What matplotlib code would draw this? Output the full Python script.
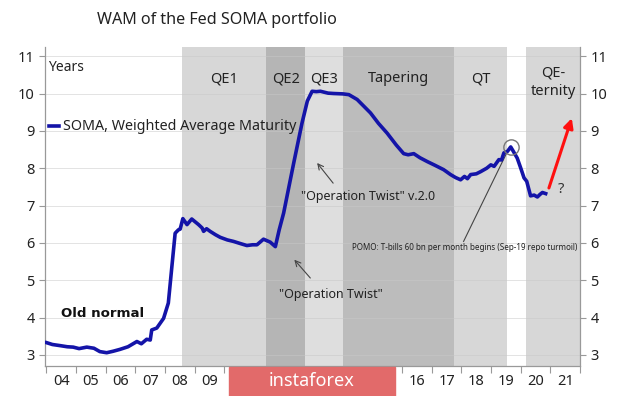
import matplotlib
matplotlib.use('Agg')
import matplotlib.pyplot as plt
from matplotlib.patches import Rectangle

plt.rcParams['font.family'] = ['Noto Sans', 'DejaVu Sans']

# WAM of SOMA portfolio, years
years = [2004.0, 2004.2, 2004.46, 2004.7, 2004.9, 2005.1, 2005.36, 2005.6, 2005.8,
         2006.03, 2006.25, 2006.48, 2006.75, 2007.05, 2007.2, 2007.38, 2007.5,
         2007.55, 2007.72, 2007.95, 2008.11, 2008.23, 2008.34, 2008.45, 2008.51,
         2008.6, 2008.74, 2008.9, 2009.13, 2009.25, 2009.3, 2009.4, 2009.52,
         2009.7, 2009.86, 2010.1, 2010.31, 2010.55, 2010.76, 2010.95, 2011.1,
         2011.32, 2011.55, 2011.72, 2011.85, 2012.0, 2012.34, 2012.62, 2012.8,
         2012.96, 2013.1, 2013.24, 2013.5, 2013.69, 2014.0, 2014.2, 2014.48,
         2014.93, 2015.2, 2015.49, 2015.8, 2016.05, 2016.2, 2016.39, 2016.6,
         2016.84, 2017.1, 2017.4, 2017.63, 2017.8, 2017.97, 2018.1, 2018.2,
         2018.31, 2018.5, 2018.65, 2018.85, 2018.99, 2019.1, 2019.26, 2019.35,
         2019.43, 2019.55, 2019.66, 2019.75, 2019.88, 2020.0, 2020.11, 2020.2,
         2020.33, 2020.45, 2020.56, 2020.65, 2020.73, 2020.84]
wam = [3.33, 3.28, 3.25, 3.22, 3.21, 3.17, 3.21, 3.18, 3.09,
       3.06, 3.10, 3.15, 3.22, 3.36, 3.30, 3.42, 3.40,
       3.67, 3.72, 3.98, 4.39, 5.37, 6.26, 6.35, 6.37,
       6.65, 6.49, 6.64, 6.49, 6.40, 6.31, 6.38, 6.31,
       6.22, 6.15, 6.08, 6.04, 5.98, 5.93, 5.95, 5.95,
       6.10, 6.02, 5.90, 6.35, 6.80, 8.14, 9.21, 9.80,
       10.06, 10.05, 10.06, 10.01, 10.0, 9.99, 9.97, 9.84,
       9.48, 9.20, 8.94, 8.62, 8.39, 8.36, 8.39, 8.28,
       8.18, 8.08, 7.96, 7.83, 7.75, 7.69, 7.78, 7.72,
       7.83, 7.85, 7.91, 8.00, 8.09, 8.05, 8.23, 8.22,
       8.41, 8.45, 8.57, 8.45, 8.27, 8.00, 7.74, 7.65,
       7.26, 7.28, 7.23, 7.30, 7.35, 7.32]
peak_idx = 83

# policy regimes
regime_names = ['QE1', 'QE2', 'QE3', 'Tapering', 'QT', 'QE-\nternity']
regime_start = [2008.57, 2011.42, 2012.73, 2014.0, 2017.74, 2020.17]
regime_end = [2011.42, 2012.73, 2014.0, 2017.74, 2019.55, 2022.0]
regime_colors = ['#d7d7d7', '#b5b5b5', '#dedede', '#bcbcbc', '#d7d7d7', '#d7d7d7']

# labels 10-15 sit under the watermark in the original
year_labels = ['04', '05', '06', '07', '08', '09', '', '', '', '',
               '', '', '16', '17', '18', '19', '20', '21']

fig = plt.figure(figsize=(6.2, 3.96), dpi=100)
ax = fig.add_axes([0.0726, 0.0758, 0.863, 0.805])
ax.set_xlim(2003.95, 2022.0)
ax.set_ylim(2.705, 11.24)

for s, e, c, n in zip(regime_start, regime_end, regime_colors, regime_names):
    ax.axvspan(s, e, color=c, lw=0, zorder=0)
    ax.text((s + e) / 2, 10.3 if '\n' in n else 10.4, n, ha='center', va='center',
            fontsize=10.5, color='#222222', linespacing=1.25)

for v in range(3, 12):
    ax.axhline(v, color='#c8c8c8', lw=0.6, alpha=0.6, zorder=1)

ax.plot(years, wam, color='#1414a8', lw=2.6, zorder=3)

# peak marker
ax.plot([years[peak_idx]], [wam[peak_idx]], marker='o', ms=11, mfc='none',
        mec='#777777', mew=1.0, zorder=4)

# QE-ternity arrow
ax.annotate('', xy=(2021.75, 9.41), xytext=(2020.92, 7.4),
            arrowprops=dict(arrowstyle='-|>', color='#ff1010', lw=2.2,
                            mutation_scale=14), zorder=5)
ax.text(2021.35, 7.42, '?', fontsize=10.5, color='#333333', ha='center', va='center')

ax.annotate('', xy=(2013.13, 8.14), xytext=(2013.67, 7.6),
            arrowprops=dict(arrowstyle='->', color='#444444', lw=0.8,
                            shrinkA=0, shrinkB=0))
ax.text(2014.86, 7.25, '"Operation Twist" v.2.0', fontsize=9, ha='center',
        va='center', color='#222222')
ax.annotate('', xy=(2012.36, 5.55), xytext=(2012.9, 5.06),
            arrowprops=dict(arrowstyle='->', color='#444444', lw=0.8,
                            shrinkA=0, shrinkB=0))
ax.text(2013.6, 4.61, '"Operation Twist"', fontsize=9, ha='center',
        va='center', color='#222222')
ax.plot([2018.07, 2019.55], [6.04, 8.45], color='#444444', lw=0.8, zorder=2)
ax.text(2018.11, 5.87, 'POMO: T-bills 60 bn per month begins (Sep-19 repo turmoil)',
        fontsize=5.8, ha='center', va='center', color='#222222')

ax.text(2004.5, 4.1, 'Old normal', fontsize=9.6, fontweight='bold',
        family='DejaVu Sans', ha='left', va='center', color='#111111')
ax.text(2004.05, 10.7, 'Years', fontsize=10, ha='left', va='center', color='#222222')
ax.plot([2004.1, 2004.42], [9.12, 9.12], color='#1414a8', lw=2.6, zorder=3)
ax.text(2004.55, 9.12, 'SOMA, Weighted Average Maturity', fontsize=10.3,
        ha='left', va='center', color='#222222')

# axes styling
for side in ['left', 'bottom', 'right']:
    ax.spines[side].set_color('#999999')
    ax.spines[side].set_linewidth(0.9)
ax.spines['top'].set_visible(False)

ax.set_yticks(range(3, 12))
ax.tick_params(axis='y', which='both', left=True, right=True, labelleft=True,
               labelright=True, length=4, color='#999999', labelsize=10.5,
               labelcolor='#222222')
ax.set_xticks(range(2004, 2023))
ax.set_xticklabels([])
ax.set_xticks([y + 0.5 for y in range(2004, 2022)], minor=True)
ax.set_xticklabels(year_labels, minor=True)
ax.tick_params(axis='x', which='major', length=5, color='#999999')
ax.tick_params(axis='x', which='minor', length=0, labelsize=10.5,
               labelcolor='#222222', pad=6)

fig.text(97 / 620, 1 - 20 / 396, 'WAM of the Fed SOMA portfolio', fontsize=11.6,
         ha='left', va='center', color='#222222')

# watermark box
fig.patches.append(Rectangle((229 / 620, 0), 166 / 620, 29 / 396,
                             transform=fig.transFigure, color='#e26a6a', zorder=10))
fig.text(312 / 620, 14.5 / 396, 'instaforex', fontsize=13, color='white',
         ha='center', va='center', zorder=11)

fig.savefig('out.png', dpi=100)
